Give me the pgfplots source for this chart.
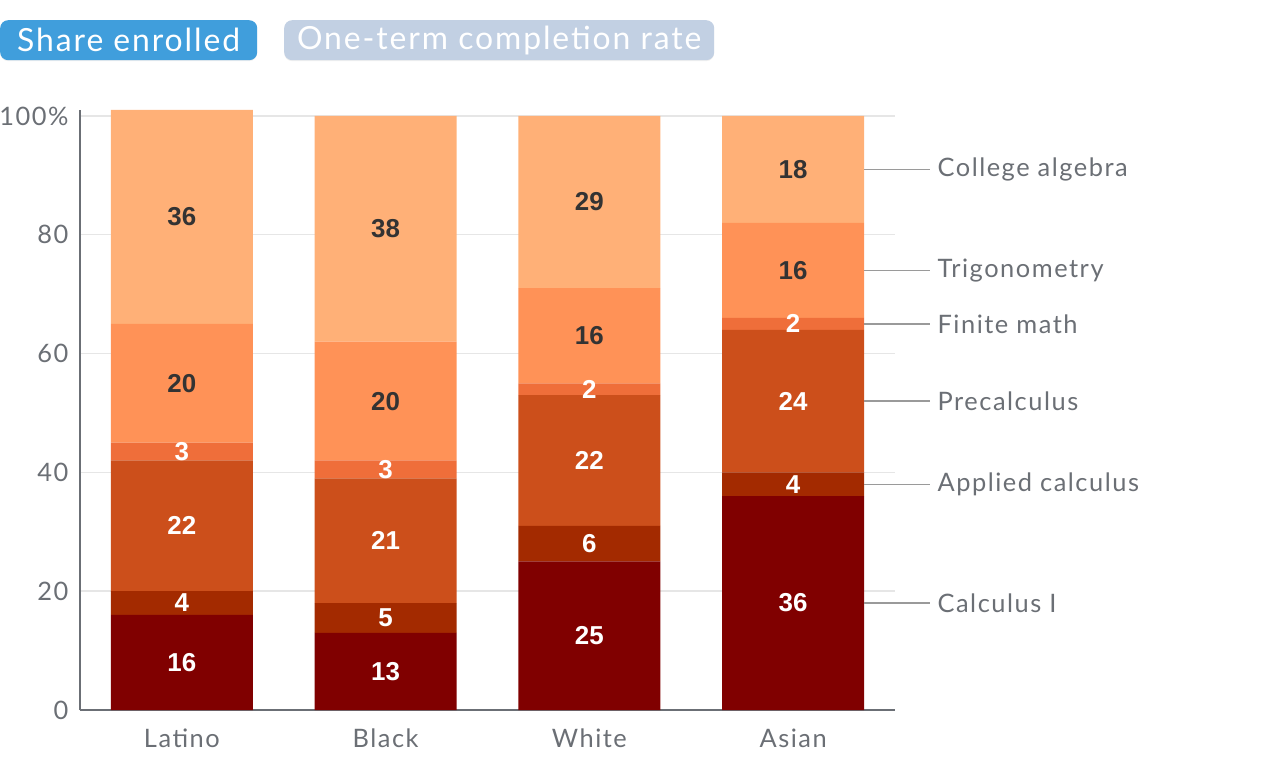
\documentclass[border=0pt]{standalone}
\usepackage{fontspec}
\setmainfont{Lato}[LetterSpace=6]
\newfontfamily\numfont{Liberation Sans}
\usepackage{pgfplots}
\pgfplotsset{compat=1.18}
\usepackage{pgfplotstable}
\usetikzlibrary{shadows}

\definecolor{calcI}{HTML}{800000}
\definecolor{applied}{HTML}{A32A00}
\definecolor{precalc}{HTML}{CC4F1B}
\definecolor{finite}{HTML}{EF6E3A}
\definecolor{trig}{HTML}{FF9257}
\definecolor{college}{HTML}{FFB077}
\definecolor{txtgray}{HTML}{6B6F75}
\definecolor{gridgray}{HTML}{E6E6E6}
\definecolor{leadgray}{HTML}{9A9A9A}
\definecolor{btnblue}{HTML}{409EDC}
\definecolor{btngray}{HTML}{C2D0E3}
\definecolor{darknum}{HTML}{333333}

% share enrolled in each course, by group (percent)
\pgfplotstableread{
x calc applied precalc finite trig college
0 16 4 22 3 20 36
1 13 5 21 3 20 38
2 25 6 22 2 16 29
3 36 4 24 2 16 18
}\shares

\pgfplotsset{
  frame/.style={
    width=815bp, height=600bp, scale only axis,
    at={(0,0)}, anchor=south west,
    xmin=-0.5, xmax=3.5, ymin=0, ymax=101,
  },
  seg/.style={fill=#1, draw=none},
}

% leader line and course name, placed at the height of the Asian segment's middle
\newcommand\course[2]{%
  \draw[leadgray, line width=1.5bp] (axis cs:3.35,#1) -- (axis cs:3.671,#1)
    node[right, inner sep=0pt, xshift=7bp, text=txtgray,
         font=\fontsize{25.5}{30}\selectfont] {#2};%
}

\begin{document}
\begin{tikzpicture}
\path[use as bounding box] (-80bp,-50bp) rectangle (1200bp,710bp);

% toggle buttons
\node[fill=btnblue, rounded corners=8bp, text=white, anchor=north west,
      minimum width=257bp, minimum height=40bp, inner sep=0pt,
      drop shadow={opacity=0.12, shadow xshift=0bp, shadow yshift=-1bp},
      font=\fontsize{32}{38}\selectfont] at (-80bp,690bp) {Share enrolled};
\node[fill=btngray, rounded corners=8bp, text=white, anchor=north west,
      minimum width=430bp, minimum height=40bp, inner sep=0pt,
      drop shadow={opacity=0.12, shadow xshift=0bp, shadow yshift=-1bp},
      font=\fontsize{32}{38}\selectfont] at (204bp,690bp) {One-term completion rate};

\begin{axis}[frame,
  ybar stacked, bar width=142bp,
  axis lines=left, axis line style={txtgray, line width=1.8bp, -},
  xtick={0,1,2,3}, xticklabels={Latino,Black,White,Asian},
  ytick={0,20,40,60,80,100}, yticklabels={0,20,40,60,80,100\%},
  ymajorgrids, grid style={gridgray, line width=1.5bp},
  major tick length=0pt,
  tick label style={font=\fontsize{25.5}{30}\selectfont, text=txtgray},
  yticklabel style={anchor=east, xshift=-8bp},
  xticklabel style={anchor=north, yshift=-15bp},
  clip=false,
]
\addplot[seg=calcI]   table[x=x, y=calc]    {\shares};
\addplot[seg=applied] table[x=x, y=applied] {\shares};
\addplot[seg=precalc] table[x=x, y=precalc] {\shares};
\addplot[seg=finite]  table[x=x, y=finite]  {\shares};
\addplot[seg=trig]    table[x=x, y=trig]    {\shares};
\addplot[seg=college] table[x=x, y=college] {\shares};
\end{axis}

% value labels centred in each segment, and the course names on the right
\begin{axis}[frame, hide axis, clip=false,
  /pgf/number format/assume math mode=true,
  nodes near coords,
  every node near coord/.append style={anchor=center, inner sep=0pt,
    font=\numfont\bfseries\fontsize{26}{30}\selectfont},
  lite/.style={draw=none, every node near coord/.append style={text=white}},
  dark/.style={draw=none, every node near coord/.append style={text=darknum}},
]
\addplot[lite, point meta=\thisrow{calc}]
  table[x=x, y expr={0.5*\thisrow{calc}}] {\shares};
\addplot[lite, point meta=\thisrow{applied}]
  table[x=x, y expr={\thisrow{calc}+0.5*\thisrow{applied}}] {\shares};
\addplot[lite, point meta=\thisrow{precalc}]
  table[x=x, y expr={\thisrow{calc}+\thisrow{applied}+0.5*\thisrow{precalc}}] {\shares};
\addplot[lite, point meta=\thisrow{finite}]
  table[x=x, y expr={\thisrow{calc}+\thisrow{applied}+\thisrow{precalc}+0.5*\thisrow{finite}}] {\shares};
\addplot[dark, point meta=\thisrow{trig}]
  table[x=x, y expr={\thisrow{calc}+\thisrow{applied}+\thisrow{precalc}+\thisrow{finite}+0.5*\thisrow{trig}}] {\shares};
\addplot[dark, point meta=\thisrow{college}]
  table[x=x, y expr={\thisrow{calc}+\thisrow{applied}+\thisrow{precalc}+\thisrow{finite}+\thisrow{trig}+0.5*\thisrow{college}}] {\shares};

\course{91}{College algebra}
\course{74}{Trigonometry}
\course{65}{Finite math}
\course{52}{Precalculus}
\course{38}{Applied calculus}
\course{18}{Calculus I}
\end{axis}
\end{tikzpicture}
\end{document}
